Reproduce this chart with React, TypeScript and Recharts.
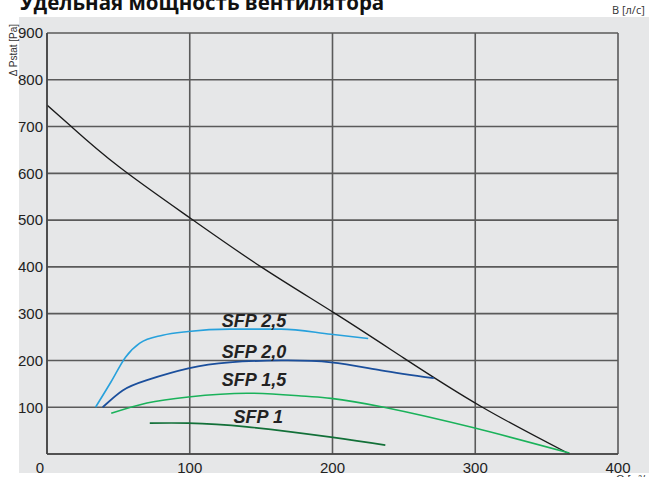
import React from "react";
import {
  LineChart,
  Line,
  XAxis,
  YAxis,
  CartesianGrid,
  ReferenceDot,
} from "recharts";

// расход, м3/ч и давление, Па
const fanQ = [0, 17, 50, 100, 150, 202, 250, 305, 366];
const fanP = [746, 700, 615, 505, 400, 300, 205, 100, 0];

const sfp25Q = [34, 45, 55, 65, 81, 99, 128, 164, 199, 225];
const sfp25P = [100, 155, 207, 237, 254, 262, 267, 267, 256, 247];

const sfp20Q = [39, 53, 70, 99, 128, 164, 199, 234, 271];
const sfp20P = [100, 136, 158, 183, 196, 200, 196, 179, 162];

const sfp15Q = [45, 70, 99, 140, 178, 199, 236, 299, 366];
const sfp15P = [87, 109, 122, 130, 124, 119, 100, 56, 2];

const sfp1Q = [72, 99, 140, 199, 237];
const sfp1P = [66, 66, 58, 36, 19];

const sfpLabels = ["SFP 2,5", "SFP 2,0", "SFP 1,5", "SFP 1"];
const labelQ = [145, 145, 145, 148];
const labelP = [286, 218, 158, 81];

const qTicks = [0, 100, 200, 300, 400];
const lsTicks = ["28", "56", "83", "111"];
const pTicks = [0, 100, 200, 300, 400, 500, 600, 700, 800, 900];

const toPoints = (q: number[], p: number[]) =>
  q.map((x, i) => ({ q: x, p: p[i] }));

const fanData = toPoints(fanQ, fanP);
const sfp25Data = toPoints(sfp25Q, sfp25P);
const sfp20Data = toPoints(sfp20Q, sfp20P);
const sfp15Data = toPoints(sfp15Q, sfp15P);
const sfp1Data = toPoints(sfp1Q, sfp1P);

const FONT = "'Liberation Sans', Arial, sans-serif";

const BottomTick = (props: any) => {
  const { x, y, payload } = props;
  return (
    <text
      x={payload.value === 0 ? x - 7 : x}
      y={y}
      dy="0.71em"
      textAnchor="middle"
      fill="#222"
      fontSize={15}
      fontFamily={FONT}
    >
      {payload.value}
    </text>
  );
};

export default function App() {
  return (
    <div
      style={{
        position: "absolute",
        left: 0,
        top: 0,
        width: 649,
        height: 477,
        overflow: "hidden",
        background: "#fff",
      }}
    >
      <div
        style={{
          position: "absolute",
          left: 19,
          top: 17,
          width: 630,
          height: 456,
          background: "#e6e7e8",
        }}
      />
      <div
        style={{
          position: "absolute",
          left: 20,
          top: -12,
          fontFamily: "'Open Sans', sans-serif",
          fontWeight: 700,
          fontSize: 20.5,
          color: "#111",
          whiteSpace: "nowrap",
        }}
      >
        Удельная мощность вентилятора
      </div>
      <div
        style={{
          position: "absolute",
          left: 612,
          top: 2,
          fontFamily: "'Open Sans', sans-serif",
          fontSize: 11,
          color: "#333",
          whiteSpace: "nowrap",
        }}
      >
        В [л/с]
      </div>
      <div
        style={{
          position: "absolute",
          left: 13,
          top: 50,
          transform: "translate(-50%, -50%) rotate(-90deg)",
          fontFamily: FONT,
          fontSize: 10,
          color: "#333",
          whiteSpace: "nowrap",
        }}
      >
        Δ Pstat [Pa]
      </div>
      <div
        style={{
          position: "absolute",
          left: 616,
          top: 474,
          fontFamily: FONT,
          fontSize: 11,
          lineHeight: "11px",
          color: "#333",
          whiteSpace: "nowrap",
        }}
      >
        Q [м³/ч]
      </div>
      <div style={{ position: "absolute", left: 0, top: 0 }}>
        <LineChart
          width={649}
          height={477}
          margin={{ top: 0, right: 31, bottom: 0, left: 0 }}
        >
          <CartesianGrid stroke="#5a5a5a" strokeWidth={1.6} />
          <XAxis
            type="number"
            dataKey="q"
            domain={[0, 400]}
            ticks={qTicks}
            height={23}
            axisLine={{ stroke: "#444", strokeWidth: 1.6 }}
            tickLine={false}
            tickSize={6}
            tickMargin={2}
            tick={<BottomTick />}
            allowDataOverflow
          />
          <XAxis
            xAxisId="top"
            orientation="top"
            type="number"
            dataKey="q"
            domain={[0, 400]}
            ticks={[100, 200, 300, 400]}
            tickFormatter={(v: number) => lsTicks[v / 100 - 1]}
            height={33}
            axisLine={false}
            tickLine={false}
            tickSize={0}
            tickMargin={5}
            tick={{ fill: "#222", fontSize: 15, fontFamily: FONT }}
          />
          <YAxis
            type="number"
            dataKey="p"
            domain={[0, 900]}
            ticks={pTicks}
            width={47}
            axisLine={{ stroke: "#444", strokeWidth: 1.6 }}
            tickLine={false}
            tickSize={0}
            tickMargin={4}
            tickFormatter={(v: number) => (v === 0 ? "" : String(v))}
            tick={{ fill: "#222", fontSize: 15, fontFamily: FONT }}
          />
          <Line
            data={fanData}
            dataKey="p"
            type="natural"
            stroke="#1a1a1a"
            strokeWidth={1.3}
            dot={false}
            isAnimationActive={false}
          />
          <Line
            data={sfp25Data}
            dataKey="p"
            type="monotone"
            stroke="#27a1dc"
            strokeWidth={1.6}
            dot={false}
            isAnimationActive={false}
          />
          <Line
            data={sfp20Data}
            dataKey="p"
            type="natural"
            stroke="#1b4f9c"
            strokeWidth={1.8}
            dot={false}
            isAnimationActive={false}
          />
          <Line
            data={sfp15Data}
            dataKey="p"
            type="natural"
            stroke="#1ab25a"
            strokeWidth={1.6}
            dot={false}
            isAnimationActive={false}
          />
          <Line
            data={sfp1Data}
            dataKey="p"
            type="natural"
            stroke="#127038"
            strokeWidth={1.6}
            dot={false}
            isAnimationActive={false}
          />
          {sfpLabels.map((name, i) => (
            <ReferenceDot
              key={name}
              x={labelQ[i]}
              y={labelP[i]}
              r={0}
              fill="none"
              stroke="none"
              label={{
                value: name,
                position: "center",
                fill: "#222",
                fontSize: 18,
                fontWeight: 700,
                fontStyle: "italic",
                fontFamily: FONT,
              }}
            />
          ))}
        </LineChart>
      </div>
    </div>
  );
}
